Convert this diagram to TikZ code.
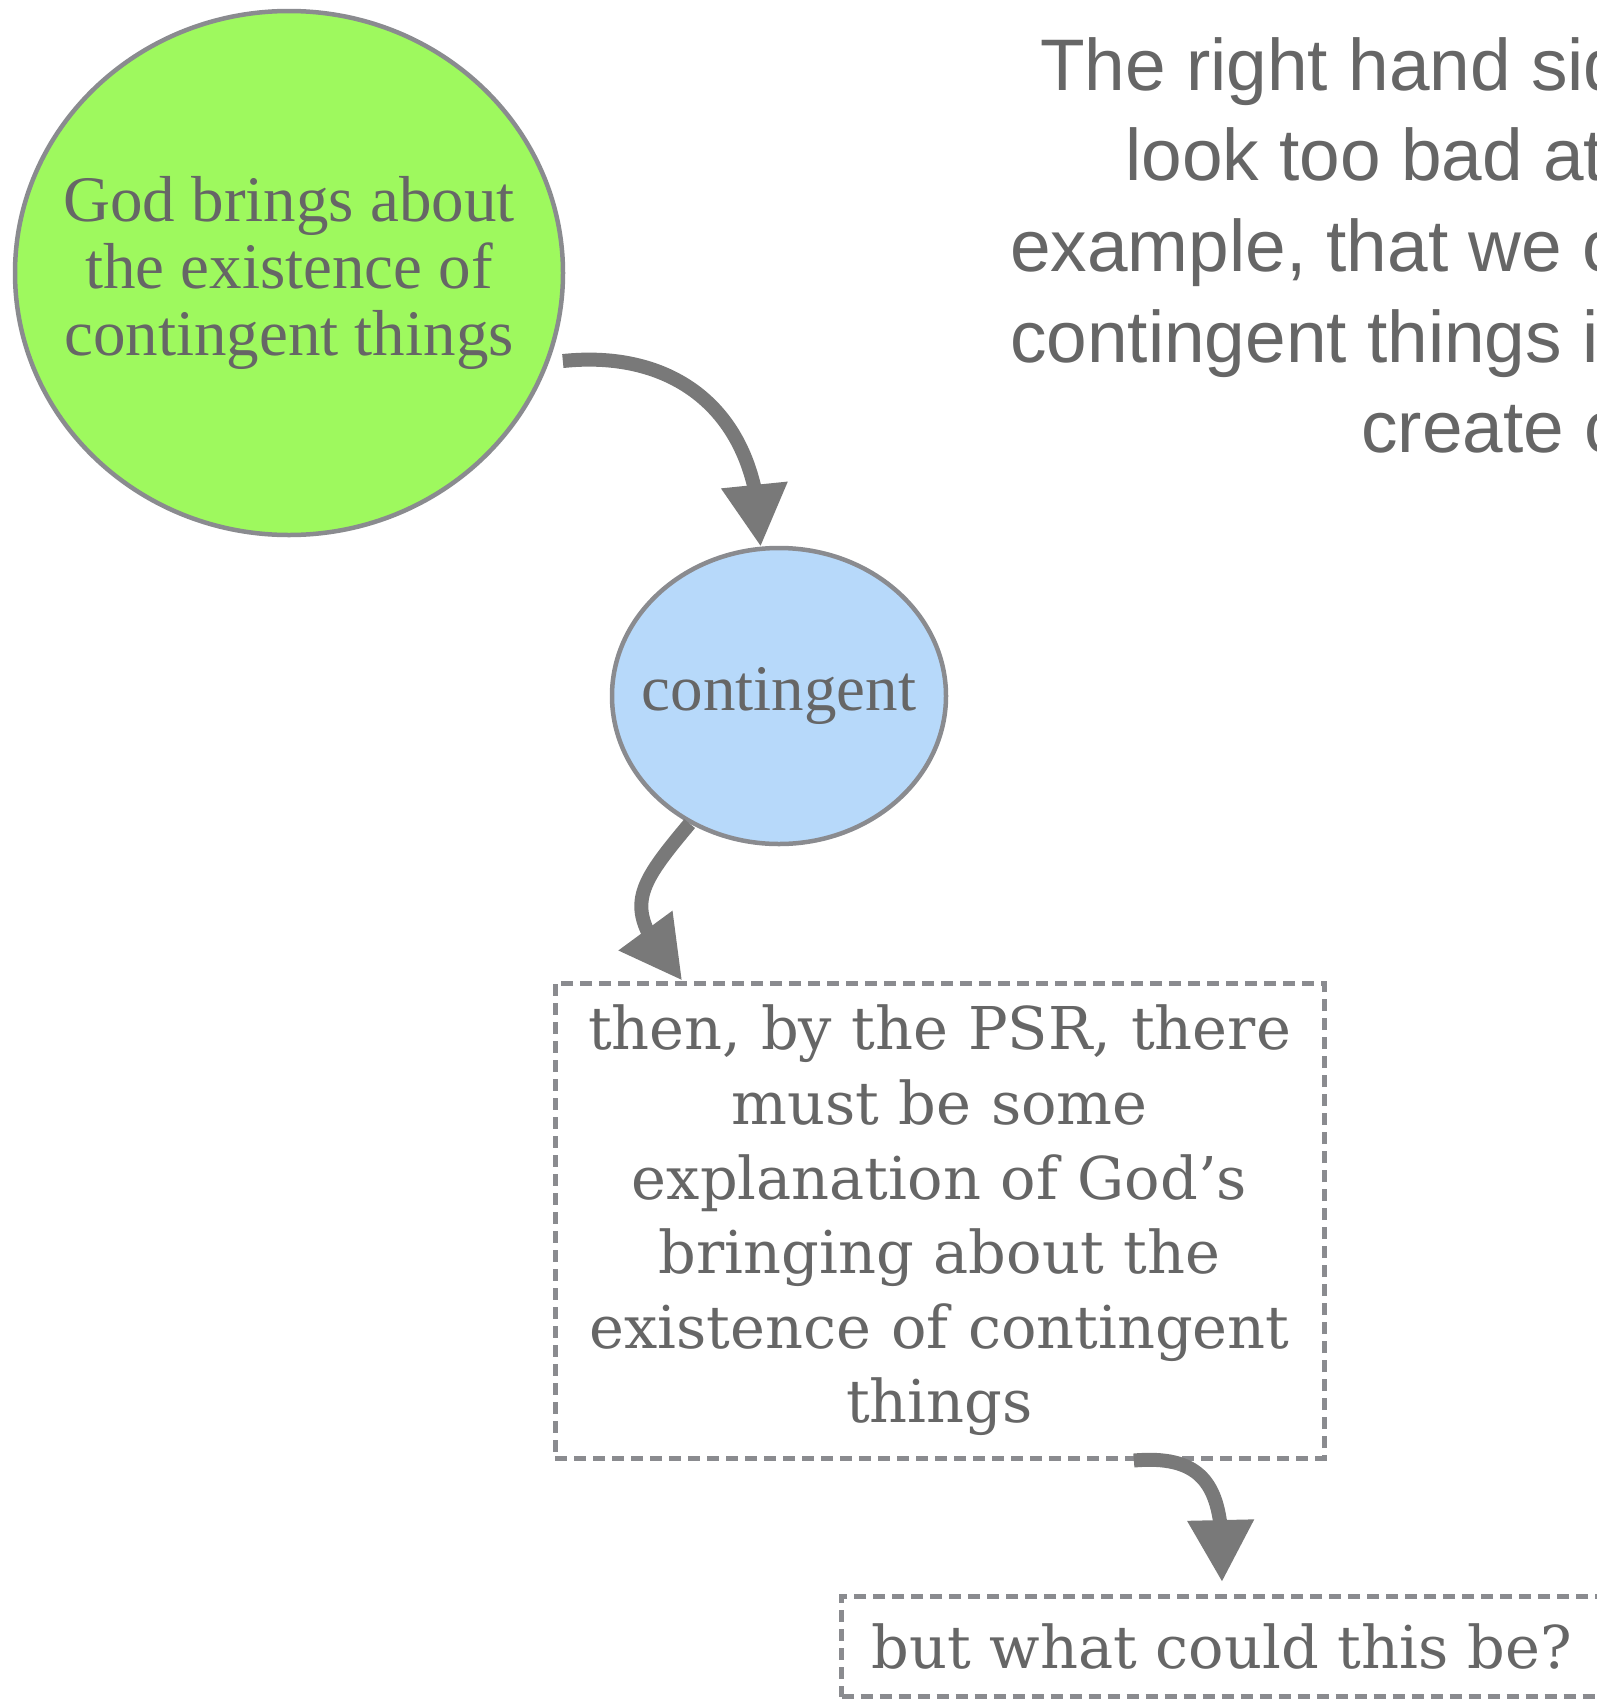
\documentclass[tikz,border=0pt]{standalone}
\usepackage{fontspec}
\setmainfont{Liberation Serif}
\newfontfamily\typefont{DejaVu Serif}
\newfontfamily\notefont{Liberation Sans}
\usetikzlibrary{arrows.meta,bending,shapes.geometric}
\definecolor{textgray}{RGB}{102,102,102}
\definecolor{linegray}{RGB}{138,139,143}
\definecolor{arrowgray}{RGB}{121,121,121}
\definecolor{leafgreen}{RGB}{158,249,94}
\definecolor{skyblue}{RGB}{183,217,250}
\begin{document}
\begin{tikzpicture}[x=1pt, y=-1pt,
  bubble/.style = {draw=linegray, ellipse, line width=4.5pt, inner sep=0pt},
  inside/.style = {text=textgray, align=center, font=\fontsize{65}{67}\selectfont},
  card/.style = {draw=linegray, line width=5pt, dash pattern=on 12pt off 7pt, text=textgray, align=center, font=\typefont\fontsize{59}{74.6}\selectfont},
  note/.style = {anchor=base west, inner sep=0pt, text=textgray, font=\notefont\fontsize{73}{90}\selectfont},
  link/.style = {color=arrowgray, line width=14pt, -{Triangle[length=62pt, width=63pt, flex]}}]
			\useasboundingbox (0,0) rectangle (1596,1703);
			\node[bubble] (1) [fill=leafgreen, minimum width=548pt, minimum height=524pt, label={[name=1a, inside]center:God brings about\\the existence of\\contingent things}] at (289,273) {};
			\node[bubble] (2) [fill=skyblue, minimum width=334pt, minimum height=296pt, label={[name=2a, inside]center:contingent}] at (779,696) {};
			\node[card] (3) [text width=710pt, minimum width=769pt, minimum height=475pt] at (939.5,1220.5) {then, by the PSR, there\\must be some\\explanation of God’s\\bringing about the\\existence of contingent\\things};
			\node[card] (4) [anchor=south west, inner xsep=30pt, minimum height=100pt] at (839,1699) {but what could this be?};
			% the remark on the right
			\node[note] (n1) at (1040,90) {The right hand sid};
			\node[note] (n2) at (1125,180) {look too bad at};
			\node[note] (n3) at (1010,271) {example, that we c};
			\node[note] (n4) at (1010,362) {contingent things i};
			\node[note] (n5) at (1361,452) {create c};
			\path[link]
			(1.-19) edge[out=6, in=90, looseness=1.2, shorten <=14pt] (2.97)
			(2.-125) edge[out=230, in=130, looseness=1.5] (3.137)
			(3.-51) edge[out=5, in=88, looseness=1.4, shorten >=12pt] (4.north);
		\end{tikzpicture}
\end{document}
